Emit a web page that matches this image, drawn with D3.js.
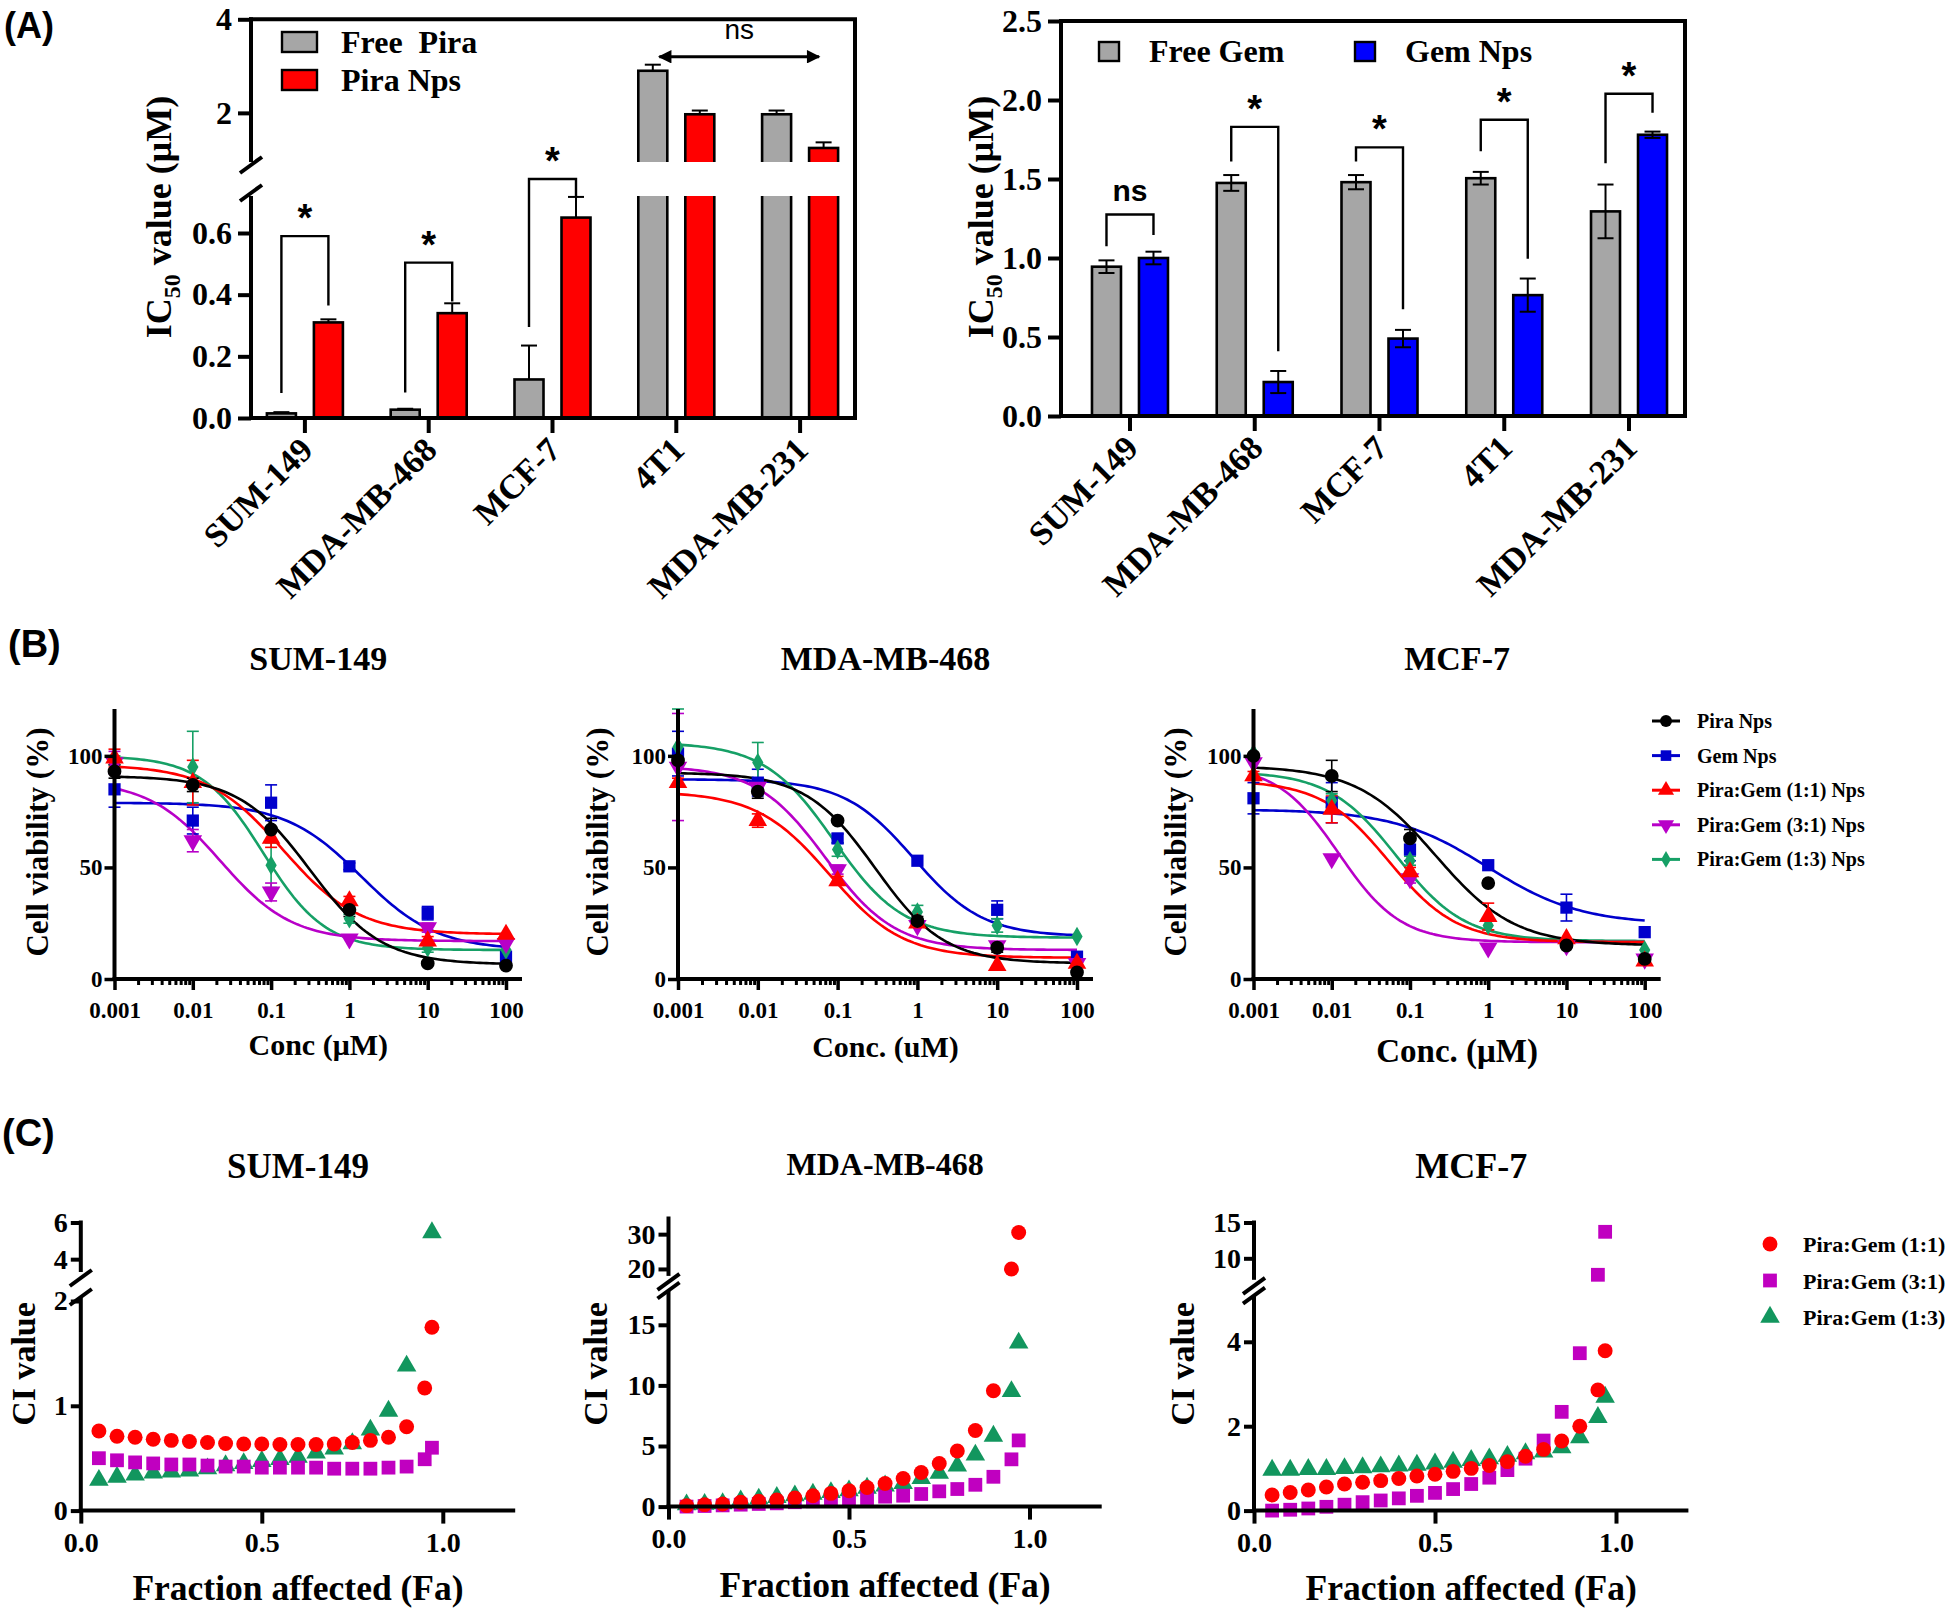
<!DOCTYPE html>
<html>
<head>
<meta charset="utf-8">
<script src="https://cdn.jsdelivr.net/npm/d3@7"></script>
<style>
  body { margin: 0; background: #fff; }
  text { white-space: pre; }
</style>
</head>
<body>
<svg id="fig" width="1960" height="1616"></svg>
<script>
// ---------- panel A : IC50 bars ----------
const cellLines = ['SUM-149', 'MDA-MB-468', 'MCF-7', '4T1', 'MDA-MB-231'];
const freePira = [0.015, 0.027, 0.125, 2.9, 1.97];
const freePiraErr = [0.004, 0.003, 0.11, 0.13, 0.08];
const piraNps = [0.31, 0.34, 0.65, 1.97, 1.25];
const piraNpsErr = [0.01, 0.032, 0.067, 0.08, 0.12];
const freeGem = [0.945, 1.475, 1.48, 1.505, 1.295];
const freeGemErr = [0.04, 0.05, 0.045, 0.04, 0.17];
const gemNps = [1.0, 0.215, 0.49, 0.765, 1.78];
const gemNpsErr = [0.04, 0.07, 0.055, 0.105, 0.02];
// significance brackets (values in uM): top, left leg end, right leg end
const piraSig = [
  { cat: 'SUM-149', top: 0.59, left: 0.081, right: 0.365, label: '*' },
  { cat: 'MDA-MB-468', top: 0.504, left: 0.083, right: 0.378, label: '*' },
  { cat: 'MCF-7', top: 0.775, left: 0.295, right: 0.718, label: '*' }
];
const gemSig = [
  { cat: 'SUM-149', top: 1.275, left: 1.075, right: 1.145, label: 'ns' },
  { cat: 'MDA-MB-468', top: 1.83, left: 1.61, right: 0.41, label: '*' },
  { cat: 'MCF-7', top: 1.70, left: 1.61, right: 0.675, label: '*' },
  { cat: '4T1', top: 1.875, left: 1.675, right: 0.995, label: '*' },
  { cat: 'MDA-MB-231', top: 2.04, left: 1.60, right: 1.92, label: '*' }
];

// ---------- panel B : dose response ----------
const concs = [0.001, 0.01, 0.1, 1, 10, 100];
const treatments = ['Pira Nps', 'Gem Nps', 'Pira:Gem (1:1) Nps', 'Pira:Gem (3:1) Nps', 'Pira:Gem (1:3) Nps'];
const treatColors = ['#000000', '#0000cc', '#ff0000', '#b800c8', '#16a066'];

const viabSUM149 = [
  [93, 87, 67, 31, 7, 6],
  [85, 71, 79, 50.5, 29.5, 10],
  [99, 88, 63, 35, 17, 20],
  [97, 62, 39, 18, 23, 16],
  [98, 95, 51, 27, 14, 13]
];
const errSUM149 = [
  [3, 3, 5, 3, 1, 1],
  [8, 6, 8, 1.5, 3, 1.5],
  [4, 10, 4, 2, 2, 1],
  [5, 5, 4, 1, 2, 1],
  [2, 16, 10, 2, 2, 1]
];
// fitted curves: top, bottom, logIC50, hill slope
const fitSUM149 = [[91, 6.5, -0.5, 0.95], [79, 13, 0.15, 0.9], [96, 20, -0.85, 0.9], [89, 17, -1.65, 0.95], [100, 13, -1.1, 1.1]];

const viabMDA468 = [
  [98, 84, 71, 26, 14, 3],
  [101, 88, 63, 53, 31, 10],
  [88, 71, 44, 25, 6, 7],
  [95, 86, 49, 24, 15, 7],
  [104, 97, 58, 30, 24, 19]
];
const errMDA468 = [
  [2, 3, 1, 2, 2, 1],
  [10, 6, 2, 1, 4, 1],
  [2, 3, 2, 1, 1, 1],
  [24, 3, 2, 1, 1, 1],
  [17, 9, 3, 3, 3, 1]
];
const fitMDA468 = [[92.5, 7, -0.53, 1.0], [89.5, 19, -0.05, 1.0], [84, 9.5, -1.1, 0.95], [95.5, 13, -1.15, 1.0], [106, 18.5, -1.05, 1.0]];

const viabMCF7 = [
  [100, 91, 63, 43, 15, 9],
  [81, 79, 58, 51, 32, 21],
  [91, 76, 48, 28, 18, 8],
  [97, 54, 45, 14, 15, 9],
  [101, 80, 53, 24, 16, 13]
];
const errMCF7 = [
  [1, 7, 4, 1, 1, 1],
  [7, 9, 5, 1, 6, 1],
  [2, 6, 2, 6, 1, 1],
  [1, 1, 2, 1, 1, 1],
  [1, 3, 2, 2, 1, 1]
];
const fitMCF7 = [[95.5, 15, -0.67, 0.86], [76, 24.5, -0.01, 0.73], [89, 16.5, -1.27, 1.0], [96, 16.5, -1.91, 1.1], [93, 17, -1.17, 1.0]];

// ---------- panel C : combination index ----------
const faLevels = [0.05, 0.10, 0.15, 0.20, 0.25, 0.30, 0.35, 0.40, 0.45, 0.50, 0.55, 0.60, 0.65, 0.70, 0.75, 0.80, 0.85, 0.90, 0.95, 0.97];
const ratioNames = ['Pira:Gem (1:1)', 'Pira:Gem (3:1)', 'Pira:Gem (1:3)'];
const ratioColors = ['#ff0000', '#c000c0', '#12965e'];

const ciSUM149_11 = [0.76, 0.71, 0.70, 0.68, 0.67, 0.66, 0.65, 0.64, 0.635, 0.635, 0.63, 0.63, 0.63, 0.635, 0.65, 0.67, 0.70, 0.80, 1.17, 1.75];
const ciSUM149_31 = [0.50, 0.48, 0.46, 0.45, 0.44, 0.44, 0.43, 0.42, 0.42, 0.41, 0.41, 0.41, 0.41, 0.40, 0.40, 0.40, 0.41, 0.42, 0.49, 0.60];
const ciSUM149_13 = [0.29, 0.32, 0.34, 0.36, 0.37, 0.38, 0.40, 0.43, 0.45, 0.47, 0.49, 0.51, 0.55, 0.59, 0.64, 0.77, 0.95, 1.38, null, 5.45];

const ciMDA468_11 = [0.08, 0.16, 0.22, 0.36, 0.44, 0.55, 0.71, 0.90, 1.09, 1.31, 1.58, 1.91, 2.32, 2.81, 3.55, 4.59, 6.28, 9.56, 20.0, 30.5];
const ciMDA468_31 = [0.0, 0.05, 0.10, 0.16, 0.22, 0.27, 0.36, 0.44, 0.55, 0.63, 0.71, 0.82, 0.90, 1.04, 1.26, 1.45, 1.80, 2.46, 3.90, 5.46];
const ciMDA468_13 = [0.16, 0.20, 0.25, 0.49, 0.63, 0.77, 0.90, 1.04, 1.17, 1.31, 1.53, 1.72, 1.91, 2.32, 2.76, 3.36, 4.26, 5.82, 9.5, 13.5];

const ciMCF7_11 = [0.37, 0.43, 0.49, 0.56, 0.63, 0.67, 0.71, 0.76, 0.82, 0.86, 0.93, 1.0, 1.07, 1.16, 1.29, 1.45, 1.65, 2.0, 2.86, 3.79];
const ciMCF7_31 = [0.0, 0.02, 0.05, 0.09, 0.14, 0.20, 0.24, 0.29, 0.35, 0.42, 0.51, 0.63, 0.78, 0.96, 1.23, 1.66, 2.34, 3.73, 7.7, 13.7];
const ciMCF7_13 = [0.96, 0.96, 0.98, 0.98, 1.0, 1.02, 1.04, 1.06, 1.08, 1.11, 1.15, 1.19, 1.23, 1.29, 1.35, 1.39, 1.49, 1.73, 2.21, 2.69];

// ------------------------------------------------------------
const SERIF = '"Liberation Serif", "Times New Roman", serif';
const SANS = '"Liberation Sans", Arial, sans-serif';
const svg = d3.select('#fig');

svg.append('defs').append('marker')
  .attr('id', 'arrowHead')
  .attr('viewBox', '0 0 10 10')
  .attr('refX', 9).attr('refY', 5)
  .attr('markerWidth', 5.5).attr('markerHeight', 4.5)
  .attr('orient', 'auto-start-reverse')
  .append('path').attr('d', 'M0,0L10,5L0,10Z').attr('fill', '#000');

function label(g, x, y, s, size, o = {}) {
  return g.append('text')
    .attr('x', x).attr('y', y)
    .attr('font-family', o.family || SERIF)
    .attr('font-weight', o.weight || 'bold')
    .attr('font-size', size)
    .attr('text-anchor', o.anchor || 'start')
    .attr('fill', o.fill || '#000')
    .text(s);
}

function vLabel(g, x, y, s, size) {
  return g.append('text')
    .attr('transform', `translate(${x},${y}) rotate(-90)`)
    .attr('font-family', SERIF).attr('font-weight', 'bold')
    .attr('font-size', size).attr('text-anchor', 'middle')
    .text(s);
}

function seg(g, x1, y1, x2, y2, w, color = '#000') {
  return g.append('line')
    .attr('x1', x1).attr('y1', y1).attr('x2', x2).attr('y2', y2)
    .attr('stroke', color).attr('stroke-width', w);
}

function styleTicks(sel, size, sw) {
  sel.select('.domain').remove();
  sel.selectAll('.tick line').attr('stroke', '#000').attr('stroke-width', sw);
  sel.selectAll('.tick text')
    .attr('fill', '#000').attr('font-family', SERIF)
    .attr('font-weight', 'bold').attr('font-size', size);
}

function breakMark(g, x, y) {
  seg(g, x - 11, y + 8, x + 11, y - 8, 4);
}

function symbolPath(kind, size) {
  const types = {
    circle: d3.symbolCircle, square: d3.symbolSquare, triangle: d3.symbolTriangle,
    down: d3.symbolTriangle, diamond: d3.symbolDiamond
  };
  return d3.symbol().type(types[kind]).size(size)();
}

function drawSymbol(g, kind, x, y, size, color) {
  g.append('path')
    .attr('d', symbolPath(kind, size))
    .attr('transform', `translate(${x},${y})` + (kind === 'down' ? ' rotate(180)' : ''))
    .attr('fill', color);
}

// ---------- bar panels ----------
function drawBarPanel(o) {
  const g = svg.append('g');
  const x = d3.scaleBand().domain(cellLines).range(o.xRange);
  const sub = d3.scaleBand().domain([0, 1]).range([-38, 38]).paddingInner(0.383);
  const y = o.y;
  const y0 = y(0);
  const barX = (c, si) => x(c) + x.bandwidth() / 2 + sub(si);
  const barMid = (c, si) => barX(c, si) + sub.bandwidth() / 2;

  o.series.forEach((s, si) => {
    g.append('g').selectAll('rect').data(cellLines).join('rect')
      .attr('x', d => barX(d, si))
      .attr('width', sub.bandwidth())
      .attr('y', (d, i) => y(s.values[i]))
      .attr('height', (d, i) => y0 - y(s.values[i]))
      .attr('fill', s.color)
      .attr('stroke', '#000').attr('stroke-width', 2.6);
  });

  // white band where the axis is broken
  if (o.gap) {
    g.append('rect')
      .attr('x', o.axisX + 2).attr('width', o.rightX - o.axisX - 4)
      .attr('y', o.gap[0]).attr('height', o.gap[1] - o.gap[0])
      .attr('fill', '#fff');
  }

  // error bars
  o.series.forEach((s, si) => {
    cellLines.forEach((c, i) => {
      const cx = barMid(c, si);
      const v = s.values[i], e = s.errors[i];
      const lo = o.upOnly ? v : v - e;
      seg(g, cx, y(lo), cx, y(v + e), 2);
      seg(g, cx - 8, y(v + e), cx + 8, y(v + e), 2);
      if (!o.upOnly) seg(g, cx - 8, y(v - e), cx + 8, y(v - e), 2);
    });
  });

  // significance brackets
  o.sig.forEach(s => {
    const sy = o.sigY;
    const xl = barMid(s.cat, 0), xr = barMid(s.cat, 1);
    g.append('path')
      .attr('d', `M${xl},${sy(s.left)}V${sy(s.top)}H${xr}V${sy(s.right)}`)
      .attr('fill', 'none').attr('stroke', '#000').attr('stroke-width', 2.4);
    if (s.label === '*') {
      label(g, (xl + xr) / 2, sy(s.top) - 5, '*', 38, { family: SANS, anchor: 'middle' });
    } else {
      label(g, (xl + xr) / 2, sy(s.top) - 14, s.label, 30, { family: SANS, anchor: 'middle' });
    }
  });

  // x axis
  const xa = g.append('g').attr('transform', `translate(0,${y0})`)
    .call(d3.axisBottom(x).tickSize(15).tickSizeOuter(0));
  styleTicks(xa, 34, 4);
  xa.selectAll('.tick text')
    .attr('y', 0).attr('dy', 0)
    .attr('transform', 'translate(10,34) rotate(-45)')
    .attr('text-anchor', 'end');

  // y axis segments
  o.yAxes.forEach(a => {
    const ya = g.append('g').attr('transform', `translate(${o.axisX},0)`)
      .call(d3.axisLeft(a.scale).tickValues(a.ticks).tickFormat(a.format)
        .tickSize(13).tickPadding(6).tickSizeOuter(0));
    styleTicks(ya, 32, 4);
    const r = a.scale.range();
    seg(g, o.axisX, r[0] + (a.bottom ? 2 : 0), o.axisX, r[1] - (a.top ? 2 : 0), 4);
  });
  if (o.gap) {
    breakMark(g, o.axisX, o.gap[0] + 3);
    breakMark(g, o.axisX, o.gap[1] - 3);
  }

  // frame
  seg(g, o.axisX - 2, y0, o.rightX + 2, y0, 4);
  seg(g, o.axisX - 2, o.topY, o.rightX + 2, o.topY, 4);
  seg(g, o.rightX, o.topY, o.rightX, y0, 4);

  // legend
  o.series.forEach((s, si) => {
    const L = o.legend[si];
    g.append('rect').attr('x', L.x).attr('y', L.y).attr('width', L.w).attr('height', L.h)
      .attr('fill', s.color).attr('stroke', '#000').attr('stroke-width', 2.4);
    label(g, L.tx, L.y + L.h + 1, s.name, 32);
  });

  // y title with subscript
  const t = g.append('text')
    .attr('transform', `translate(${o.titleX},217) rotate(-90)`)
    .attr('font-family', SERIF).attr('font-weight', 'bold')
    .attr('font-size', 36).attr('text-anchor', 'middle');
  t.append('tspan').text('IC');
  t.append('tspan').attr('font-size', 24).attr('dy', 9).text('50');
  t.append('tspan').attr('dy', -9).text(' value (\u03bcM)');
  return { g, x, y };
}

// A - left
const yPira = d3.scaleLinear().domain([0, 0.72, 0.95, 4]).range([418, 196, 162, 19.3]);
const yPiraLow = d3.scaleLinear().domain([0, 0.72]).range([418, 196]);
const yPiraUp = d3.scaleLinear().domain([0.95, 4]).range([162, 19.3]);
const A1 = drawBarPanel({
  xRange: [243, 862], y: yPira, sigY: yPiraLow, axisX: 251, rightX: 855, topY: 19.3,
  gap: [162, 196], upOnly: true, titleX: 171,
  series: [
    { name: 'Free\u00a0 Pira', values: freePira, errors: freePiraErr, color: '#a6a6a6' },
    { name: 'Pira Nps', values: piraNps, errors: piraNpsErr, color: '#ff0000' }
  ],
  sig: piraSig,
  yAxes: [
    { scale: yPiraLow, ticks: [0, 0.2, 0.4, 0.6], format: d3.format('.1f'), bottom: true },
    { scale: yPiraUp, ticks: [2, 4], format: d3.format('d'), top: true }
  ],
  legend: [
    { x: 282, y: 32, w: 35, h: 20, tx: 341 },
    { x: 282, y: 70, w: 35, h: 20, tx: 341 }
  ]
});
// "ns" arrow between 4T1 and MDA-MB-231
{
  const xs = A1.x, mid = xs.bandwidth() / 2;
  const xa = xs('4T1') + mid - 20, xb = xs('MDA-MB-231') + mid + 22;
  A1.g.append('line')
    .attr('x1', xa + 3).attr('x2', xb - 3)
    .attr('y1', yPira(3.2)).attr('y2', yPira(3.2))
    .attr('stroke', '#000').attr('stroke-width', 3)
    .attr('marker-start', 'url(#arrowHead)').attr('marker-end', 'url(#arrowHead)');
  label(A1.g, (xa + xb) / 2, yPira(3.2) - 18, 'ns', 28, { family: SANS, weight: 'normal', anchor: 'middle' });
}

// A - right
const yGem = d3.scaleLinear().domain([0, 2.5]).range([416, 21]);
drawBarPanel({
  xRange: [1067.6, 1691.4], y: yGem, sigY: yGem, axisX: 1061, rightX: 1685, topY: 21,
  gap: null, upOnly: false, titleX: 993,
  series: [
    { name: 'Free Gem', values: freeGem, errors: freeGemErr, color: '#a6a6a6' },
    { name: 'Gem Nps', values: gemNps, errors: gemNpsErr, color: '#0000ff' }
  ],
  sig: gemSig,
  yAxes: [
    { scale: yGem, ticks: [0, 0.5, 1, 1.5, 2, 2.5], format: d3.format('.1f'), bottom: true, top: true }
  ],
  legend: [
    { x: 1099, y: 42, w: 20, h: 19, tx: 1149 },
    { x: 1355, y: 42, w: 20, h: 19, tx: 1405 }
  ]
});

// ---------- dose-response panels ----------
const treatSymbols = ['circle', 'square', 'triangle', 'down', 'diamond'];
const treatSizes = [150, 150, 150, 150, 110];
const drawOrder = [1, 4, 3, 2, 0];

function drawCurvePanel(o) {
  const g = svg.append('g');
  const x = d3.scaleLog().domain([0.001, 100]).range(o.xRange);
  const y = d3.scaleLinear().domain([0, 121]).range([979, 709]);
  const x0 = o.xRange[0], xEnd = o.xRange[1] + 16;

  // curves from fit parameters
  const xs = d3.range(0, 121).map(i => Math.pow(10, -3 + i / 24));
  drawOrder.forEach(k => {
    const p = o.fits[k];
    const f = c => p[1] + (p[0] - p[1]) / (1 + Math.pow(10, (Math.log10(c) - p[2]) * p[3]));
    g.append('path')
      .attr('d', d3.line().x(c => x(c)).y(c => y(f(c)))(xs))
      .attr('fill', 'none').attr('stroke', treatColors[k]).attr('stroke-width', 2.6);
  });
  // error bars and points
  drawOrder.forEach(k => {
    concs.forEach((c, i) => {
      const v = o.vals[k][i], e = o.errs[k][i];
      if (e > 1.2) {
        seg(g, x(c), y(v - e), x(c), y(v + e), 1.6, treatColors[k]);
        seg(g, x(c) - 6, y(v + e), x(c) + 6, y(v + e), 1.6, treatColors[k]);
        seg(g, x(c) - 6, y(v - e), x(c) + 6, y(v - e), 1.6, treatColors[k]);
      }
    });
  });
  drawOrder.forEach(k => {
    concs.forEach((c, i) => drawSymbol(g, treatSymbols[k], x(c), y(o.vals[k][i]), treatSizes[k], treatColors[k]));
  });

  // axes
  const minor = x.ticks().filter(t => !concs.some(m => Math.abs(t - m) / m < 1e-6));
  const xa = g.append('g').attr('transform', `translate(0,${y(0)})`)
    .call(d3.axisBottom(x).tickValues(concs).tickFormat(d => String(d)).tickSize(11).tickPadding(12).tickSizeOuter(0));
  styleTicks(xa, 23, 3.5);
  const xm = g.append('g').attr('transform', `translate(0,${y(0)})`)
    .call(d3.axisBottom(x).tickValues(minor).tickFormat('').tickSize(6).tickSizeOuter(0));
  styleTicks(xm, 10, 3);
  const ya = g.append('g').attr('transform', `translate(${x0},0)`)
    .call(d3.axisLeft(y).tickValues([0, 50, 100]).tickFormat(d3.format('d')).tickSize(10).tickPadding(2).tickSizeOuter(0));
  styleTicks(ya, 23, 3.5);
  seg(g, x0 - 2, y(0), xEnd, y(0), 4);
  seg(g, x0, y(0) + 2, x0, y(121), 4);

  const cx = (x0 + xEnd) / 2;
  label(g, cx, 670, o.title, 34, { anchor: 'middle' });
  label(g, cx, o.xTitleY, o.xTitle, o.xTitleSize, { anchor: 'middle' });
  vLabel(g, o.yLabelX, 842, 'Cell viability (%)', 31);
  return g;
}

drawCurvePanel({
  xRange: [114.5, 506], title: 'SUM-149', xTitle: 'Conc (\u03bcM)', xTitleSize: 30, xTitleY: 1055,
  yLabelX: 48, vals: viabSUM149, errs: errSUM149, fits: fitSUM149
});
drawCurvePanel({
  xRange: [678, 1077], title: 'MDA-MB-468', xTitle: 'Conc. (uM)', xTitleSize: 30, xTitleY: 1057,
  yLabelX: 608, vals: viabMDA468, errs: errMDA468, fits: fitMDA468
});
const B3 = drawCurvePanel({
  xRange: [1253.5, 1644.7], title: 'MCF-7', xTitle: 'Conc. (\u03bcM)', xTitleSize: 33, xTitleY: 1062,
  yLabelX: 1186, vals: viabMCF7, errs: errMCF7, fits: fitMCF7
});
// legend for panel B
treatments.forEach((name, k) => {
  const yy = 721 + k * 34.6;
  seg(B3, 1652, yy, 1680, yy, 3, treatColors[k]);
  drawSymbol(B3, treatSymbols[k], 1666, yy, treatSizes[k] * 0.75, treatColors[k]);
  label(B3, 1697, yy + 7, name, 20);
});

// ---------- CI panels ----------
const ratioSymbols = ['circle', 'square', 'triangle'];
const ratioSizes = [175, 190, 165];

function drawCIPanel(o) {
  const g = svg.append('g');
  const x = d3.scaleLinear().domain([0, 1.2]).range(o.xRange);
  const yLow = d3.scaleLinear().domain(o.lowDomain).range(o.lowRange);
  const yUp = d3.scaleLinear().domain(o.upDomain).range(o.upRange);
  const pos = v => v <= o.lowDomain[1] ? yLow(v) : (v >= o.upDomain[0] ? yUp(v) : null);
  const x0 = o.xRange[0], y0 = yLow(0);

  // points: (1:3) first, then (3:1), then (1:1) on top
  [2, 1, 0].forEach(k => {
    o.series[k].forEach((v, i) => {
      if (v === null || pos(v) === null) return;
      drawSymbol(g, ratioSymbols[k], x(faLevels[i]), pos(v), ratioSizes[k], ratioColors[k]);
    });
  });

  const xa = g.append('g').attr('transform', `translate(0,${y0})`)
    .call(d3.axisBottom(x).tickValues([0, 0.5, 1]).tickFormat(d3.format('.1f')).tickSize(13).tickPadding(9).tickSizeOuter(0));
  styleTicks(xa, 28, 4);
  [[yLow, o.lowTicks], [yUp, o.upTicks]].forEach(([s, t]) => {
    const ya = g.append('g').attr('transform', `translate(${x0},0)`)
      .call(d3.axisLeft(s).tickValues(t).tickFormat(d3.format('d')).tickSize(10).tickPadding(3).tickSizeOuter(0));
    styleTicks(ya, 28, 4);
  });
  seg(g, x0 - 2, y0, o.xRange[1], y0, 4);
  seg(g, x0, y0, x0, o.lowRange[1] - 4, 4);
  seg(g, x0, o.upRange[0], x0, o.upRange[1] - 2, 4);
  breakMark(g, x0, o.upRange[0] + 6);
  breakMark(g, x0, o.lowRange[1] - 4);

  const cx = (o.xRange[0] + o.xRange[1]) / 2;
  label(g, cx, o.titleY, o.title, o.titleSize, { anchor: 'middle' });
  label(g, cx, o.xTitleY, 'Fraction affected (Fa)', 35.5, { anchor: 'middle' });
  vLabel(g, o.yLabelX, 1364, 'CI value', 34);
  return g;
}

drawCIPanel({
  xRange: [80.8, 515.2], lowDomain: [0, 2], lowRange: [1510.6, 1301], upDomain: [3.3, 6], upRange: [1272, 1222.5],
  lowTicks: [0, 1, 2], upTicks: [4, 6], title: 'SUM-149', titleSize: 35, titleY: 1178, xTitleY: 1600,
  yLabelX: 35, series: [ciSUM149_11, ciSUM149_31, ciSUM149_13]
});
drawCIPanel({
  xRange: [668.5, 1101.7], lowDomain: [0, 17.5], lowRange: [1506.6, 1294.5], upDomain: [18, 34.5], upRange: [1275.9, 1218.5],
  lowTicks: [0, 5, 10, 15], upTicks: [20, 30], title: 'MDA-MB-468', titleSize: 32, titleY: 1175, xTitleY: 1597,
  yLabelX: 607, series: [ciMDA468_11, ciMDA468_31, ciMDA468_13]
});
const C3 = drawCIPanel({
  xRange: [1254, 1688.4], lowDomain: [0, 5], lowRange: [1510.6, 1299.6], upDomain: [7, 15], upRange: [1279.8, 1222.5],
  lowTicks: [0, 2, 4], upTicks: [10, 15], title: 'MCF-7', titleSize: 36, titleY: 1178, xTitleY: 1600,
  yLabelX: 1194, series: [ciMCF7_11, ciMCF7_31, ciMCF7_13]
});
ratioNames.forEach((name, k) => {
  const yy = 1244 + k * 36.5;
  drawSymbol(C3, ratioSymbols[k], 1770, yy, ratioSizes[k], ratioColors[k]);
  label(C3, 1803, yy + 8, name, 22);
});

// panel letters
label(svg, 4, 38, '(A)', 36, { family: SANS });
label(svg, 8, 657, '(B)', 38, { family: SANS });
label(svg, 2, 1146, '(C)', 38, { family: SANS });
</script>
</body>
</html>
